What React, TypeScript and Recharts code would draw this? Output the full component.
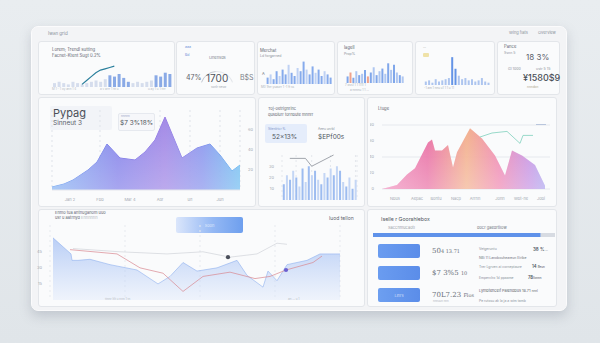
import React from 'react';
import {
  AreaChart, Area, BarChart, Bar, Cell, ComposedChart, Line, Scatter, ZAxis,
  XAxis, YAxis, CartesianGrid, PieChart, Pie,
} from 'recharts';

const FONT = 'Inter, "Open Sans", sans-serif';

// row 1 minis
const aBars = [3, 4, 3, 2, 4, 3, 2, 3, 4, 5, 4, 6, 9, 8, 10, 7, 4, 3, 4, 3, 4, 5, 9, 8, 11, 10];
const aLine = [null, null, null, null, null, null, 2, 5, 8, 11, 13, 14, 15, 16, null, null, null, null, null, null, null, null, null, null, null, null];
const gauge = [{ name: 'done', value: 47 }, { name: 'rest', value: 53 }];
const cBars = [4, 6, 3, 8, 5, 9, 6, 12, 7, 5, 10, 8, 14, 9, 6, 11, 7, 9, 5, 8, 6, 4];
const dBars = [5, 8, 4, 9, 6, 7, 10, 5, 8, 12, 6, 9, 11, 7, 15, 10, 14, 8, 6, 5];
const eBars = [3, 4, 2, 5, 3, 4, 5, 6, 24, 14, 8, 5, 6, 4, 5, 3, 4, 6, 3, 2];

// row 2: big purple area
const gPoints = [
  { t: 52, v: 3 }, { t: 64, v: 6 }, { t: 73, v: 10 }, { t: 88, v: 20 }, { t: 97, v: 28 },
  { t: 107, v: 46 }, { t: 120, v: 32 }, { t: 135, v: 30 }, { t: 145, v: 38 }, { t: 155, v: 50 },
  { t: 165, v: 73 }, { t: 182, v: 32 }, { t: 197, v: 42 }, { t: 210, v: 46 }, { t: 220, v: 35 },
  { t: 232, v: 19 }, { t: 240, v: 25 },
];
const gTicks = [70, 100, 130, 160, 190, 220];
const gLabels = ['Jan 2', 'Fbb', 'Mar 4', 'Apr', 'ul1', 'Jun'];

// row 2: bars + line
const hBars = [14, 22, 18, 26, 20, 12, 28, 16, 30, 22, 26, 18, 14, 24, 20, 28, 22, 30, 26, 16, 12, 20, 10, 18];
const hLine = [null, null, 37, null, null, null, null, 37, null, 30, null, null, null, null, null, null, 40, null, null, null, null, null, null, null];

// row 2: pink area + teal line
const iPoints = [
  { t: 382, v: 0 }, { t: 397, v: 5 }, { t: 407, v: 18 }, { t: 415, v: 26 }, { t: 428, v: 58 },
  { t: 432, v: 62 }, { t: 435, v: 48 }, { t: 442, v: 48 }, { t: 448, v: 55 }, { t: 453, v: 27 },
  { t: 457, v: 46 }, { t: 470, v: 76 }, { t: 482, v: 63 }, { t: 495, v: 42 }, { t: 505, v: 17 },
  { t: 512, v: 48 }, { t: 522, v: 42 }, { t: 535, v: 30 }, { t: 545, v: 4 },
];
const iTeal = [
  { t: 480, v: 65 }, { t: 492, v: 70 }, { t: 507, v: 72 }, { t: 520, v: 57 }, { t: 523, v: 67 }, { t: 533, v: 67 },
];
const iTicks = [395, 417, 436, 456, 475, 500, 521, 541];
const iLabels = ['Nbus', 'Aepac', 'Bontu', 'Nacp', 'Arrnn', 'Jonn', 'Wbt-ne', 'Jobi'];

// row 3: light blue area with lines
const jPoints = [
  { t: 53, v: 58 }, { t: 71, v: 43 }, { t: 72, v: 37 }, { t: 78, v: 37 }, { t: 90, v: 38 },
  { t: 110, v: 33 }, { t: 137, v: 28 }, { t: 158, v: 15 }, { t: 170, v: 22 }, { t: 183, v: 35 },
  { t: 197, v: 27 }, { t: 217, v: 30 }, { t: 237, v: 37 }, { t: 247, v: 23 }, { t: 263, v: 12 },
  { t: 268, v: 27 }, { t: 277, v: 18 }, { t: 287, v: 33 }, { t: 307, v: 37 }, { t: 320, v: 43 }, { t: 340, v: 43 },
];
const jRed = [
  { t: 70, v: 47 }, { t: 117, v: 43 }, { t: 140, v: 30 }, { t: 163, v: 25 }, { t: 183, v: 8 },
  { t: 203, v: 22 }, { t: 230, v: 26 }, { t: 255, v: 20 }, { t: 270, v: 22 }, { t: 286, v: 28 },
  { t: 313, v: 35 }, { t: 322, v: 41 },
];
const jGrey = [
  { t: 73, v: 48 }, { t: 120, v: 45 }, { t: 167, v: 43 }, { t: 203, v: 45 }, { t: 230, v: 40 },
  { t: 257, v: 43 }, { t: 277, v: 53 }, { t: 287, v: 52 },
];
const jMarkers = [{ t: 228, v: 40 }, { t: 286, v: 28 }];
const kProgress = [{ name: 'p', value: 92 }];

const box = (x: number, y: number, w: number, h: number, extra: any = {}) => ({
  position: 'absolute' as const, left: x, top: y, width: w, height: h, ...extra,
});

function Panel({ x, y, w, h }: any) {
  return <div style={box(x, y, w, h, { background: '#fafbfc', border: '1px solid #e3e6ea', borderRadius: 3, boxSizing: 'border-box' })} />;
}

function T({ x, y, s = 4.5, c = '#8a919b', w = 400, f = FONT, children }: any) {
  return (
    <div style={{ position: 'absolute', left: x, top: y, fontSize: s, color: c, fontWeight: w, fontFamily: f, lineHeight: 1.15, whiteSpace: 'nowrap' }}>
      {children}
    </div>
  );
}

function Btn({ x, y, w, h, bg, label }: any) {
  return (
    <div style={box(x, y, w, h, { background: bg, borderRadius: 2, color: 'rgba(255,255,255,0.7)', fontSize: 4, fontFamily: FONT, display: 'flex', alignItems: 'center', justifyContent: 'center' })}>
      {label}
    </div>
  );
}

const tickStyle = { fontSize: 4, fill: '#a3a9b2' };

export default function App() {
  const aData = aBars.map((b, i) => ({ i, b, l: aLine[i] }));
  const cData = cBars.map((b, i) => ({ i, b }));
  const dData = dBars.map((b, i) => ({ i, b }));
  const eData = eBars.map((b, i) => ({ i, b }));
  const hData = hBars.map((b, i) => ({ i, b, l: hLine[i] }));

  return (
    <div style={box(0, 0, 600, 343, { background: 'linear-gradient(180deg,#e9edf0 0%,#e0e5e9 100%)', overflow: 'hidden', fontFamily: FONT })}>
      {/* main card */}
      <div style={box(31, 26, 536, 285, { background: '#f3f4f6', borderRadius: 7, border: '1px solid #fbfbfc', boxShadow: '0 5px 12px rgba(110,120,135,0.28)', boxSizing: 'border-box' })} />
      <T x={48} y={31} s={4.5}>Iwan grid</T>
      <T x={509} y={31} s={4}>Wing flats</T>
      <T x={538} y={31} s={4}>Overview</T>

      {/* ---------- row 1 ---------- */}
      <Panel x={38} y={41} w={137} h={54} />
      <T x={52} y={48} s={4.3} c="#5d646e">Lorem; Trendl sutting</T>
      <T x={52} y={54} s={4.3} c="#5d646e">Facnet-Ktent Sugt 0.2%</T>
      <div style={box(50, 61, 122, 26)}>
        <ComposedChart width={122} height={26} data={aData} margin={{ top: 0, right: 0, bottom: 0, left: 2 }} barCategoryGap={1}>
          <XAxis dataKey="i" hide />
          <YAxis hide domain={[0, 20]} />
          <Bar dataKey="b" isAnimationActive={false}>
            {aData.map((d) => (
              <Cell key={d.i} fill={(d.i >= 12 && d.i <= 16) || d.i >= 22 ? '#8aaae6' : '#d5dded'} />
            ))}
          </Bar>
          <Line dataKey="l" stroke="#2a7f9c" strokeWidth={1.2} dot={false} connectNulls isAnimationActive={false} />
        </ComposedChart>
      </div>
      <T x={52} y={88} s={3} c="#b3b8bf">M 1 - 1 oy ann 1 4</T>
      <T x={100} y={88} s={3} c="#b3b8bf">a v arrr 1 ttt u</T>
      <T x={148} y={88} s={3} c="#b3b8bf">u ay 1 u 1 ttrr</T>

      <Panel x={176} y={41} w={79} h={54} />
      <T x={185} y={45} s={3.5} c="#6a8fd6">aaa</T>
      <T x={185} y={53} s={3.5} c="#6a8fd6">Bd</T>
      <T x={209} y={56} s={4} c="#7d848e">Unensds</T>
      <div style={box(182, 53, 60, 40)}>
        <PieChart width={60} height={40}>
          <Pie data={gauge} dataKey="value" cx={30} cy={30} startAngle={160} endAngle={20} innerRadius={16} outerRadius={17} stroke="none" isAnimationActive={false}>
            <Cell fill="#c4c9d1" />
            <Cell fill="#e4e7eb" />
          </Pie>
        </PieChart>
      </div>
      <T x={186} y={74} s={7} c="#5a6069">47%</T>
      <T x={206} y={73} s={10} c="#4c525b">1700</T>
      <T x={211} y={86} s={3} c="#a0a6ae">ssnlr riesw</T>
      <T x={240} y={74} s={7} c="#7b818a">B$S</T>

      <Panel x={257} y={41} w={78} h={54} />
      <T x={260} y={49} s={4.2} c="#5d646e">Merchat</T>
      <T x={260} y={54} s={3.5}>Ld forgarned</T>
      <T x={262} y={72} s={4} c="#6b717a">A</T>
      <div style={box(266, 60, 66, 24)}>
        <BarChart width={66} height={24} data={cData} margin={{ top: 0, right: 0, bottom: 0, left: 0 }} barCategoryGap={0.6}>
          <XAxis dataKey="i" hide />
          <YAxis hide domain={[0, 15]} />
          <Bar dataKey="b" isAnimationActive={false}>
            {cData.map((d) => <Cell key={d.i} fill={d.i % 3 === 1 ? '#bfd2f4' : '#86abec'} />)}
          </Bar>
        </BarChart>
      </div>
      <T x={261} y={86} s={3} c="#aab0b8">M0 1hrr yuaurr 1 -1 ft ss</T>

      <Panel x={337} y={41} w={76} h={54} />
      <T x={344} y={46} s={4.2} c="#5d646e">Iagell</T>
      <T x={344} y={52} s={3.5}>Prop%</T>
      <div style={box(346, 62, 58, 21)}>
        <BarChart width={58} height={21} data={dData} margin={{ top: 0, right: 0, bottom: 0, left: 0 }} barCategoryGap={0.6}>
          <XAxis dataKey="i" hide />
          <YAxis hide domain={[0, 16]} />
          <Bar dataKey="b" isAnimationActive={false}>
            {dData.map((d) => <Cell key={d.i} fill={d.i === 1 || d.i === 7 ? '#efa28c' : d.i % 2 ? '#afc7f1' : '#80a7ea'} />)}
          </Bar>
        </BarChart>
      </div>
      <T x={345} y={84} s={3} c="#aab0b8">7 oss1 1 1 1111 1</T>
      <T x={350} y={89} s={3} c="#aab0b8">a nnnnu 1 1 ...</T>

      <Panel x={415} y={41} w={80} h={54} />
      <T x={423} y={45} s={3.5}>...</T>
      <div style={box(423, 53, 6, 4, { background: '#efe2a8', borderRadius: 1 })} />
      <div style={box(424, 56, 66, 29)}>
        <BarChart width={66} height={29} data={eData} margin={{ top: 0, right: 0, bottom: 0, left: 0 }} barCategoryGap={0.8}>
          <XAxis dataKey="i" hide />
          <YAxis hide domain={[0, 25]} />
          <Bar dataKey="b" isAnimationActive={false}>
            {eData.map((d) => <Cell key={d.i} fill={d.i === 8 || d.i === 9 ? '#6494e6' : '#adc5ef'} />)}
          </Bar>
        </BarChart>
      </div>
      <T x={424} y={87} s={3} c="#aab0b8">-1 am 1 nnu u1 1 1 u 11</T>

      <Panel x={497} y={41} w={63} h={54} />
      <T x={504} y={45} s={4.2} c="#5d646e">Pance</T>
      <T x={504} y={51} s={3.5}>Ssnn 5</T>
      <T x={526} y={53} s={8} c="#5a6069">18 3%</T>
      <T x={508} y={67} s={3.6}>Gl 1000</T>
      <T x={536} y={67} s={3.6}>ustr 5 15</T>
      <T x={523} y={73} s={9} c="#4a5058" w={500}>¥1580$9</T>
      <T x={527} y={86} s={3.2} c="#b0a58a">nnndon</T>

      {/* ---------- row 2 ---------- */}
      <Panel x={38} y={97} w={218} h={110} />
      <div style={box(50, 106, 62, 24, { background: 'rgba(240,242,246,0.8)', borderRadius: 2 })} />
      <T x={53} y={107} s={11} c="#4a4f57">Pypag</T>
      <T x={53} y={120} s={6.5} c="#5a6069">Sinneut 3</T>
      <div style={box(45, 105, 213, 96)}>
        <AreaChart width={213} height={96} data={gPoints} margin={{ top: 5, right: 8, bottom: 0, left: 7 }}>
          <defs>
            <linearGradient id="gH" x1="0" y1="0" x2="1" y2="0">
              <stop offset="0%" stopColor="#7fb0f2" />
              <stop offset="35%" stopColor="#7b78e8" />
              <stop offset="60%" stopColor="#9a7ee4" />
              <stop offset="80%" stopColor="#7f8cec" />
              <stop offset="100%" stopColor="#68baf0" />
            </linearGradient>
            <linearGradient id="gV" x1="0" y1="0" x2="0" y2="1">
              <stop offset="0%" stopColor="#ffffff" stopOpacity={0} />
              <stop offset="100%" stopColor="#ffffff" stopOpacity={0.45} />
            </linearGradient>
          </defs>
          <CartesianGrid vertical horizontal={false} stroke="#dfe3ea" strokeDasharray="2 3" />
          <XAxis dataKey="t" type="number" domain={[52, 240]} ticks={gTicks} tickFormatter={(v: number) => gLabels[gTicks.indexOf(v)]} tick={tickStyle} height={11} tickMargin={2} axisLine={{ stroke: '#e3e6eb' }} tickLine={false} />
          <YAxis orientation="right" domain={[0, 80]} ticks={[20, 40, 60]} tick={tickStyle} width={10} axisLine={false} tickLine={false} />
          <Area dataKey="v" type="linear" fill="url(#gH)" fillOpacity={0.9} stroke="url(#gH)" strokeWidth={1} isAnimationActive={false} />
          <Area dataKey="v" type="linear" fill="url(#gV)" stroke="none" isAnimationActive={false} />
        </AreaChart>
      </div>
      <div style={box(118, 113, 35, 16, { background: 'rgba(246,247,250,0.95)', border: '1px solid #e6e9ef', borderRadius: 2 })} />
      <T x={121} y={115} s={3} c="#9aa6c8">nnnnn</T>
      <T x={120} y={120} s={6.5} c="#4f5660">$7 3%18%</T>

      <Panel x={258} y={97} w={107} h={110} />
      <T x={268} y={107} s={4} c="#5d646e">Toj-oetrighrinc</T>
      <T x={268} y={113} s={4} c="#5d646e">qusbiurr tornbute mnnrr</T>
      <div style={box(265, 124, 42, 19, { background: '#e5edfb', borderRadius: 2 })} />
      <T x={268} y={128} s={3.2} c="#7f95c9">Sitenlrtcr   ¾</T>
      <T x={272} y={134} s={6.5} c="#4f5660">52x13%</T>
      <T x={318} y={128} s={3.2}>Aeeu unrbl</T>
      <T x={318} y={134} s={6.5} c="#4f5660">$EPf00s</T>
      <div style={box(268, 150, 92, 52)}>
        <ComposedChart width={92} height={52} data={hData} margin={{ top: 5, right: 3, bottom: 2, left: 0 }} barCategoryGap={0.8}>
          <CartesianGrid horizontal={false} stroke="#e4e7ec" strokeDasharray="2 3" />
          <XAxis dataKey="i" hide />
          <YAxis domain={[0, 40]} ticks={[10, 20, 30]} tick={tickStyle} width={14} axisLine={false} tickLine={false} />
          <Bar dataKey="b" isAnimationActive={false}>
            {hData.map((d) => <Cell key={d.i} fill={d.i % 2 ? '#c4d6f5' : '#9dbcf0'} />)}
          </Bar>
          <Line dataKey="l" stroke="#8a8f98" strokeWidth={0.8} dot={false} connectNulls isAnimationActive={false} />
        </ComposedChart>
      </div>

      <Panel x={367} y={97} w={190} h={110} />
      <T x={378} y={107} s={4.2} c="#5d646e">Ltuge</T>
      <div style={box(370, 120, 182, 82)}>
        <ComposedChart width={182} height={82} margin={{ top: 5, right: 2, bottom: 0, left: 0 }}>
          <defs>
            <linearGradient id="iH" x1="0" y1="0" x2="1" y2="0">
              <stop offset="0%" stopColor="#f08cbc" />
              <stop offset="28%" stopColor="#e8679f" />
              <stop offset="52%" stopColor="#f2ab86" />
              <stop offset="72%" stopColor="#ee80ad" />
              <stop offset="90%" stopColor="#c38be0" />
              <stop offset="100%" stopColor="#a9a0ee" />
            </linearGradient>
            <linearGradient id="iV" x1="0" y1="0" x2="0" y2="1">
              <stop offset="0%" stopColor="#ffffff" stopOpacity={0} />
              <stop offset="100%" stopColor="#ffffff" stopOpacity={0.5} />
            </linearGradient>
          </defs>
          <CartesianGrid vertical={false} stroke="#e6e9ee" />
          <XAxis dataKey="t" type="number" domain={[382, 550]} ticks={iTicks} tickFormatter={(v: number) => iLabels[iTicks.indexOf(v)]} tick={tickStyle} height={13} tickMargin={2} axisLine={false} tickLine={false} />
          <YAxis domain={[0, 80]} ticks={[0, 20, 40, 60, 80]} tick={tickStyle} width={12} axisLine={false} tickLine={false} />
          <Area data={iPoints} dataKey="v" type="linear" fill="url(#iH)" fillOpacity={0.92} stroke="none" isAnimationActive={false} />
          <Area data={iPoints} dataKey="v" type="linear" fill="url(#iV)" stroke="none" isAnimationActive={false} />
          <Line data={iTeal} dataKey="v" stroke="#7fd0bd" strokeWidth={0.8} dot={false} isAnimationActive={false} />
        </ComposedChart>
      </div>
      <div style={box(536, 124, 10, 1, { background: '#b9c6dd' })} />

      {/* ---------- row 3 ---------- */}
      <Panel x={38} y={209} w={327} h={98} />
      <T x={55} y={211} s={4} c="#5d646e">Enmo tua anthuganom uuo</T>
      <T x={55} y={216} s={4} c="#5d646e">usr u aatrnyd <span style={{ color: '#b4b9c0' }}>Ennnnnn</span></T>
      <T x={329} y={216} s={5} c="#5d646e">Iuod tellon</T>
      <Btn x={176} y={217} w={67} h={16} bg="linear-gradient(90deg,#dbe6fb 0%,#94b8f4 55%,#6e9fee 100%)" label="Soon" />
      <div style={box(36, 222, 314, 78)}>
        <ComposedChart width={314} height={78} margin={{ top: 3, right: 2, bottom: 0, left: 4 }}>
          <defs>
            <linearGradient id="jV" x1="0" y1="0" x2="0" y2="1">
              <stop offset="0%" stopColor="#7ba3f0" stopOpacity={0.85} />
              <stop offset="100%" stopColor="#dfe9fb" stopOpacity={0.7} />
            </linearGradient>
          </defs>
          <CartesianGrid horizontal={false} stroke="#e7eaef" strokeDasharray="2 3" />
          <XAxis dataKey="t" type="number" domain={[50, 340]} hide />
          <YAxis yAxisId="l" domain={[0, 70]} ticks={[15, 30, 45]} tick={tickStyle} width={10} axisLine={false} tickLine={false} />
          <YAxis yAxisId="r" orientation="right" domain={[0, 70]} ticks={[10, 25, 40, 55]} tick={tickStyle} width={8} axisLine={false} tickLine={false} />
          <ZAxis range={[14, 14]} />
          <Area yAxisId="l" data={jPoints} dataKey="v" type="linear" fill="url(#jV)" stroke="#8eb0ef" strokeWidth={0.6} isAnimationActive={false} />
          <Line yAxisId="l" data={jGrey} dataKey="v" stroke="#c9ccd3" strokeWidth={0.6} dot={false} isAnimationActive={false} />
          <Line yAxisId="l" data={jRed} dataKey="v" stroke="#d9868f" strokeWidth={0.7} dot={false} isAnimationActive={false} />
          <Scatter yAxisId="l" data={jMarkers} dataKey="v" isAnimationActive={false}>
            <Cell fill="#4a4f5a" />
            <Cell fill="#6b5fd0" />
          </Scatter>
        </ComposedChart>
      </div>
      <T x={105} y={298} s={3} c="#b8bdc4">ttnnr ltlt u nnn 1 tn</T>
      <T x={288} y={298} s={3} c="#b8bdc4">an ... u 1</T>

      <Panel x={367} y={209} w={190} h={98} />
      <T x={381} y={217} s={5.2} c="#4f5660">Iselle r Goorahlebox</T>
      <T x={388} y={226} s={4} c="#9aa0a8">Sacchmucaotl</T>
      <T x={477} y={226} s={4} c="#6d737c">docr gaedrtilow</T>
      <div style={box(373, 233, 182, 4)}>
        <BarChart width={182} height={4} data={kProgress} layout="vertical" margin={{ top: 0, right: 0, bottom: 0, left: 0 }} barCategoryGap={0}>
          <XAxis type="number" domain={[0, 100]} hide />
          <YAxis type="category" dataKey="name" hide />
          <Bar dataKey="value" fill="#5f92ea" background={{ fill: '#d7dbe2' }} isAnimationActive={false} />
        </BarChart>
      </div>
      <Btn x={378} y={244} w={42} h={14} bg="linear-gradient(90deg,#6a9cf0,#5b8de9)" label="" />
      <Btn x={378} y={266} w={42} h={14} bg="linear-gradient(90deg,#6a9cf0,#5b8de9)" label="" />
      <Btn x={378} y={288} w={42} h={14} bg="linear-gradient(90deg,#6d9ff0,#5b8de9)" label="Llnrs" />
      <T x={432} y={247} s={7} c="#6a7079" f='"DejaVu Serif", serif'>50<span style={{ fontSize: 5 }}>4 13.71</span></T>
      <T x={432} y={269} s={7} c="#6a7079" f='"DejaVu Serif", serif'>$7 3%5 <span style={{ fontSize: 5 }}>10</span></T>
      <T x={432} y={291} s={7} c="#6a7079" f='"DejaVu Serif", serif'>70L7.23 <span style={{ fontSize: 5 }}>Flos</span></T>
      <T x={433} y={300} s={2.8} c="#b0b5bc">nnnuun nnn</T>
      <T x={479} y={248} s={3.4}>Vetgeruntu</T>
      <T x={533} y={247} s={4.5} c="#4f5660" w={600}>38 %<span style={{ fontSize: 3, fontWeight: 400 }}> ...</span></T>
      <T x={479} y={257} s={3.4} c="#6d737c">NBi 11 Lanobouheareun Eiribe</T>
      <T x={479} y={266} s={3.4}>Trer Lgrven ai corneptaure</T>
      <T x={532} y={265} s={4.2} c="#4f5660" w={600}>14 <span style={{ fontSize: 3, fontWeight: 400 }}>Beun</span></T>
      <T x={479} y={277} s={3.4}>Emperclro 1d ppaame</T>
      <T x={528} y={276} s={4.2} c="#4f5660" w={600}>78<span style={{ fontSize: 3, fontWeight: 400 }}>llonnn</span></T>
      <T x={479} y={289} s={3.8} c="#5d646e">Lymbtencelf Palendbus 18.71 <span style={{ fontSize: 3 }}>nnnl</span></T>
      <T x={479} y={300} s={3.4}>Pe rutosu ak la ja a wim tamb</T>
    </div>
  );
}
